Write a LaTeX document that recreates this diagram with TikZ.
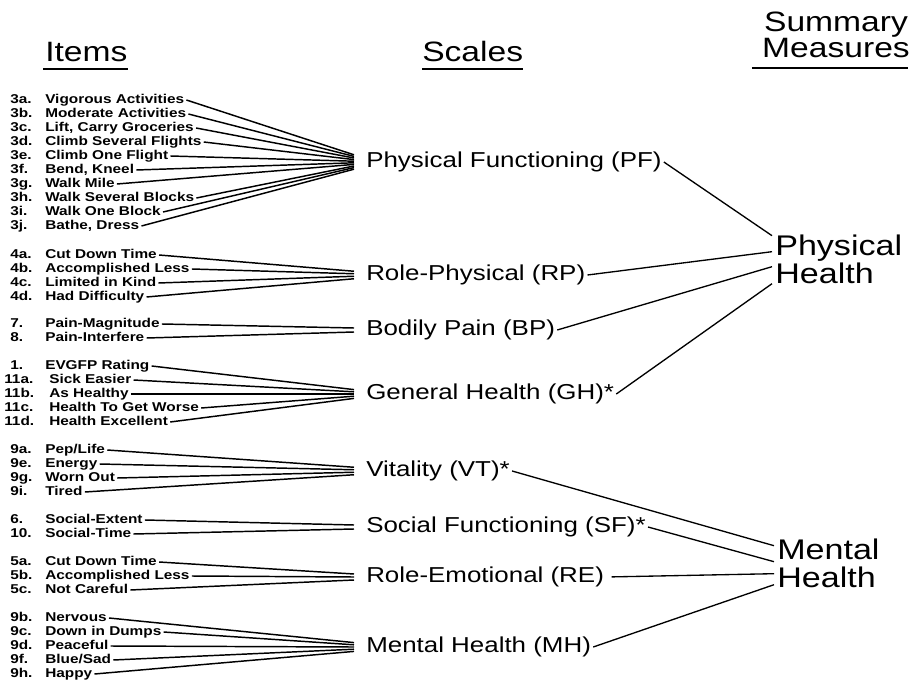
\documentclass[tikz,border=0pt]{standalone}
\usepackage{fontspec}
\setmainfont{Liberation Sans}[FakeStretch=1.2]
\newfontfamily\itemfont{Liberation Sans}[FakeStretch=1.2]
\usetikzlibrary{calc}

\tikzset{
  head/.style={inner sep=0pt, font=\fontsize{21pt}{19.5pt}\selectfont},
  uline/.style={line width=1.5pt},
  itembox/.style={anchor=west, inner xsep=1.5pt, inner ysep=0pt,
    text height=7pt, text depth=2pt,
    font=\itemfont\bfseries\fontsize{9.6pt}{10pt}\selectfont},
  scalebox/.style={anchor=west, inner xsep=1.5pt, inner ysep=0pt,
    font=\fontsize{16.2pt}{18pt}\selectfont},
  sumbox/.style={anchor=north west, align=left, inner sep=0pt,
    font=\fontsize{21.3pt}{21pt}\selectfont},
  link/.style={line width=1.1pt},
  tie/.style={line width=1pt}
}

\begin{document}
\begin{tikzpicture}[x=0.75pt, y=-0.75pt]
    \useasboundingbox (0,0) rectangle (913,684);

    % --- column headings ---
    \node[head, anchor=base west] (hitems) at (45,62) {Items};
    \node[head, anchor=base west] (hscales) at (422,62) {Scales};
    \node[head, align=center, anchor=north] (hsum) at (836,12) {Summary\\Measures};
    \draw[uline] ($(hitems.base west)+(-2,7)$) -- ($(hitems.base east)+(0,7)$);
    \draw[uline] ($(hscales.base west)+(0,7)$) -- ($(hscales.base east)+(0,7)$);
    \draw[uline] ($(hsum.south west)+(-10,10)$) -- ($(hsum.south east)+(-2,10)$);

    % --- scales ---
    \node[scalebox] (pf) at (364,162) {Physical Functioning (PF)};
    \node[scalebox] (rp) at (364,275) {Role-Physical (RP)};
    \node[scalebox] (bp) at (364,330) {Bodily Pain (BP)};
    \node[scalebox] (gh) at (364,394) {General Health (GH)*};
    \node[scalebox] (vt) at (364,471) {Vitality (VT)*};
    \node[scalebox] (sf) at (364,527) {Social Functioning (SF)*};
    \node[scalebox] (re) at (364,577) {Role-Emotional (RE)};
    \node[scalebox] (mh) at (364,647) {Mental Health (MH)};

    % --- items to scales ---
    \foreach \num/\txt [count=\k from 0] in {3a./Vigorous Activities,
        3b./Moderate Activities, 3c./{Lift, Carry Groceries},
        3d./Climb Several Flights, 3e./Climb One Flight, 3f./{Bend, Kneel},
        3g./Walk Mile, 3h./Walk Several Blocks, 3i./Walk One Block,
        3j./{Bathe, Dress}}{
        \node[itembox] (pf-\k) at (8,{100+14*\k}) {\makebox[26.25pt][l]{\num}\txt};
        \draw[link] (pf-\k.east) -- ($(pf.west)+(-10,{(\k-4.5)*1.6})$);
    }
    \foreach \num/\txt [count=\k from 0] in {4a./Cut Down Time,
        4b./Accomplished Less, 4c./Limited in Kind, 4d./Had Difficulty}{
        \node[itembox] (rp-\k) at (8,{255+14*\k}) {\makebox[26.25pt][l]{\num}\txt};
        \draw[link] (rp-\k.east) -- ($(rp.west)+(-10,{(\k-1.5)*2.5})$);
    }
    \foreach \num/\txt [count=\k from 0] in {7./Pain-Magnitude, 8./Pain-Interfere}{
        \node[itembox] (bp-\k) at (8,{324+14*\k}) {\makebox[26.25pt][l]{\num}\txt};
        \draw[link] (bp-\k.east) -- ($(bp.west)+(-10,{(\k-0.5)*4})$);
    }
    \foreach \num/\txt/\bx [count=\k from 0] in {1./EVGFP Rating/0,
        11a./Sick Easier/1, 11b./As Healthy/1, 11c./Health To Get Worse/1,
        11d./Health Excellent/1}{
        \node[itembox] (gh-\k) at ({8-6*\bx},{366+14*\k})
            {\makebox[\dimexpr26.25pt+7.5pt*\bx\relax][l]{\num}\txt};
        \draw[link] (gh-\k.east) -- ($(gh.west)+(-10,{(\k-2)*2.2})$);
    }
    \foreach \num/\txt [count=\k from 0] in {9a./{Pep/Life}, 9e./Energy,
        9g./Worn Out, 9i./Tired}{
        \node[itembox] (vt-\k) at (8,{450+14*\k}) {\makebox[26.25pt][l]{\num}\txt};
        \draw[link] (vt-\k.east) -- ($(vt.west)+(-10,{(\k-1.5)*2.5})$);
    }
    \foreach \num/\txt [count=\k from 0] in {6./Social-Extent, 10./Social-Time}{
        \node[itembox] (sf-\k) at (8,{520+14*\k}) {\makebox[26.25pt][l]{\num}\txt};
        \draw[link] (sf-\k.east) -- ($(sf.west)+(-10,{(\k-0.5)*4})$);
    }
    \foreach \num/\txt [count=\k from 0] in {5a./Cut Down Time,
        5b./Accomplished Less, 5c./Not Careful}{
        \node[itembox] (re-\k) at (8,{562+14*\k}) {\makebox[26.25pt][l]{\num}\txt};
        \draw[link] (re-\k.east) -- ($(re.west)+(-10,{(\k-1)*3})$);
    }
    \foreach \num/\txt [count=\k from 0] in {9b./Nervous, 9c./Down in Dumps,
        9d./Peaceful, 9f./{Blue/Sad}, 9h./Happy}{
        \node[itembox] (mh-\k) at (8,{618+14*\k}) {\makebox[26.25pt][l]{\num}\txt};
        \draw[link] (mh-\k.east) -- ($(mh.west)+(-10,{(\k-2)*2.2})$);
    }

    % --- summary measures ---
    \node[sumbox] (phys) at (775,235) {Physical\\Health};
    \node[sumbox] (ment) at (777,539) {Mental\\Health};
    \coordinate (phys-pf) at ($(phys.west)+(-3,-24)$);
    \coordinate (phys-rp) at ($(phys.west)+(-3,-8)$);
    \coordinate (phys-bp) at ($(phys.west)+(-3,7)$);
    \coordinate (phys-gh) at ($(phys.west)+(-3,24)$);
    \coordinate (ment-vt) at ($(ment.west)+(-3,-18)$);
    \coordinate (ment-sf) at ($(ment.west)+(-3,-2)$);
    \coordinate (ment-re) at ($(ment.west)+(-3,10)$);
    \coordinate (ment-mh) at ($(ment.west)+(-3,21)$);

    % scales to summary measures
    \draw[tie] (pf.east) -- (phys-pf);
    \draw[tie] (rp.east) -- (phys-rp);
    \draw[tie] (bp.east) -- (phys-bp);
    \draw[tie] (gh.east) -- (phys-gh);
    \draw[tie] (vt.east) -- (ment-vt);
    \draw[tie] (sf.east) -- (ment-sf);
    \draw[tie, shorten <=4pt] (re.east) -- (ment-re);
    \draw[tie] (mh.east) -- (ment-mh);
\end{tikzpicture}
\end{document}
